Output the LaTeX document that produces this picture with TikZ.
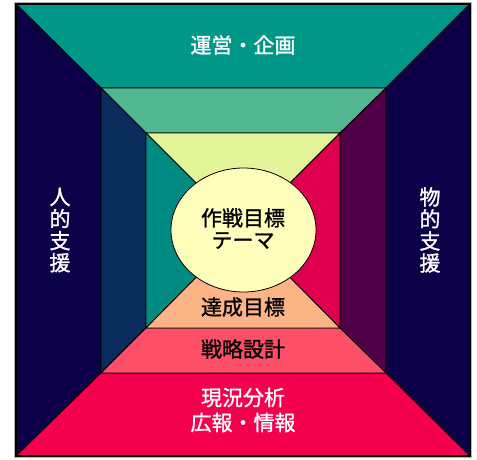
\documentclass[tikz,border=0pt]{standalone}
\usepackage{fontspec}
\setmainfont[FakeBold=1.2]{Noto Sans CJK JP}
\definecolor{otop}{HTML}{009688}
\definecolor{oside}{HTML}{0C0048}
\definecolor{obot}{HTML}{F5004E}
\definecolor{mtop}{HTML}{52B690}
\definecolor{mleft}{HTML}{0A2C5C}
\definecolor{mright}{HTML}{500046}
\definecolor{mbot}{HTML}{FD5068}
\definecolor{itop}{HTML}{E4F498}
\definecolor{ileft}{HTML}{008A82}
\definecolor{iright}{HTML}{DE004E}
\definecolor{ibot}{HTML}{FCB487}
\definecolor{ell}{HTML}{FFFFBB}
\tikzset{
  panel/.style={draw=black, line width=0.8pt, line join=miter},
  lbl/.style={font=\fontsize{21}{22}\selectfont, align=center, inner sep=0pt},
  wlbl/.style={lbl, text=white},
  blbl/.style={lbl, text=black},
}
\begin{document}
\begin{tikzpicture}[x=1pt, y=-1pt]
\useasboundingbox (0,0) rectangle (477,459);
\fill[white] (0,0) rectangle (477,459);
% coordinates
\coordinate (O1) at (16,4);   \coordinate (O2) at (470,4);
\coordinate (O3) at (470,456); \coordinate (O4) at (16,456);
\coordinate (M1) at (101,88);  \coordinate (M2) at (386,88);
\coordinate (M3) at (386,373); \coordinate (M4) at (101,373);
\coordinate (I1) at (146,133); \coordinate (I2) at (340,133);
\coordinate (I3) at (340,328); \coordinate (I4) at (146,328);
\coordinate (C) at (243,230);
% outer ring
\filldraw[panel, fill=otop] (O1) -- (O2) -- (M2) -- (M1) -- cycle;
\filldraw[panel, fill=oside] (O1) -- (M1) -- (M4) -- (O4) -- cycle;
\filldraw[panel, fill=oside] (O2) -- (O3) -- (M3) -- (M2) -- cycle;
\filldraw[panel, fill=obot] (O4) -- (M4) -- (M3) -- (O3) -- cycle;
% middle ring
\filldraw[panel, fill=mtop] (M1) -- (M2) -- (I2) -- (I1) -- cycle;
\filldraw[panel, fill=mleft] (M1) -- (I1) -- (I4) -- (M4) -- cycle;
\filldraw[panel, fill=mright] (M2) -- (M3) -- (I3) -- (I2) -- cycle;
\filldraw[panel, fill=mbot] (M4) -- (I4) -- (I3) -- (M3) -- cycle;
% inner ring
\filldraw[panel, fill=itop] (I1) -- (I2) -- (C) -- cycle;
\filldraw[panel, fill=ileft] (I1) -- (C) -- (I4) -- cycle;
\filldraw[panel, fill=iright] (I2) -- (I3) -- (C) -- cycle;
\filldraw[panel, fill=ibot] (I4) -- (C) -- (I3) -- cycle;
% ellipse
\filldraw[panel, fill=ell] (243.5,230) ellipse [x radius=72.5, y radius=62];
% outer frame
\draw[gray!60, line width=1pt] (14.5,2.5) rectangle (471.5,457.5);
\draw[black, line width=1.6pt] (O1) rectangle (O3);
% labels
\node[wlbl] (t1) at (243,45) {運営・企画};
\node[wlbl] (t2) at (60,230) {人\\的\\支\\援};
\node[wlbl] (t3) at (430,230) {物\\的\\支\\援};
\node[wlbl, font=\fontsize{21}{25}\selectfont] (t4) at (243,410) {現況分析\\広報・情報};
\node[blbl] (t5) at (243,349) {戦略設計};
\node[blbl] (t6) at (243,307) {達成目標};
\node[blbl] (t7) at (243,228.5) {作戦目標\\テーマ};
\end{tikzpicture}
\end{document}
